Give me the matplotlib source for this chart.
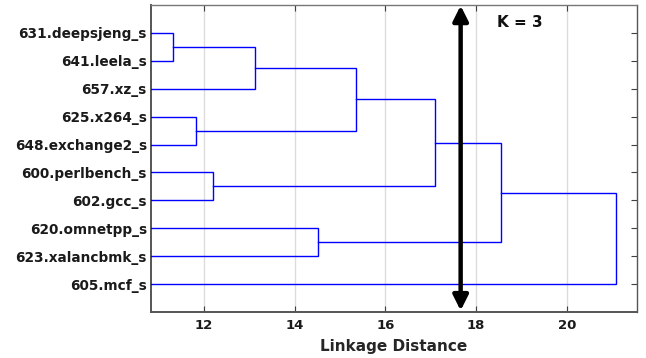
import matplotlib
matplotlib.use("Agg")
import matplotlib.pyplot as plt

# Benchmarks, top to bottom in dendrogram leaf order
leaves = ["631.deepsjeng_s", "641.leela_s", "657.xz_s", "625.x264_s",
          "648.exchange2_s", "600.perlbench_s", "602.gcc_s", "620.omnetpp_s",
          "623.xalancbmk_s", "605.mcf_s"]

# Merge steps: (left child, right child, linkage distance)
# children < 10 refer to leaves, >= 10 to earlier clusters (10 + step index)
merges = [
    (0, 1, 11.31),
    (10, 2, 13.13),
    (3, 4, 11.82),
    (11, 12, 15.36),
    (5, 6, 12.19),
    (13, 14, 17.10),
    (7, 8, 14.51),
    (15, 16, 18.55),
    (17, 9, 21.09),
]

cut_distance = 17.66
k_label = "K = 3"
xticks = [12, 14, 16, 18, 20]

fig = plt.figure(figsize=(6.46, 3.58), dpi=100)
ax = fig.add_axes([151 / 646, 1 - 312 / 358, (637 - 151) / 646, (312 - 5) / 358])

xmin, xmax = 10.83, 21.55

# leaf positions 1..n, y axis inverted so first leaf is on top
pos = {i: i + 1.0 for i in range(len(leaves))}
height = {i: xmin for i in range(len(leaves))}

for k, (a, b, d) in enumerate(merges):
    ya, yb = pos[a], pos[b]
    xa, xb = height[a], height[b]
    ax.plot([xa, d, d, xb], [ya, ya, yb, yb], color="#0000ff", lw=1.0,
            solid_joinstyle="miter", zorder=3)
    node = len(leaves) + k
    pos[node] = (ya + yb) / 2
    height[node] = d

ax.set_xlim(xmin, xmax)
ax.set_ylim(11, 0)
ax.set_yticks(range(1, len(leaves) + 1))
ax.set_yticklabels(leaves)
ax.set_xticks(xticks)
ax.grid(axis="x", color="#dcdcdc", lw=1.0, zorder=0)

ax.tick_params(axis="both", direction="in", length=4, width=0.8, color="#404040",
               top=True, right=True, labelcolor="#1a1a1a")
ax.tick_params(axis="y", left=False, pad=3, labelsize=9.8)
ax.tick_params(axis="x", pad=5, labelsize=9.5)
for lab in ax.get_xticklabels() + ax.get_yticklabels():
    lab.set_fontweight("bold")
for s in ax.spines.values():
    s.set_color("#555555")
    s.set_linewidth(1.0)
ax.spines["left"].set_linewidth(1.4)
ax.spines["bottom"].set_linewidth(1.4)
ax.spines["top"].set_color("#777777")

ax.set_xlabel("Linkage Distance", fontsize=11, fontweight="bold", color="#262626", labelpad=5)

# cut line with arrow heads at both ends
ax.annotate("", xy=(cut_distance, 0.02), xytext=(cut_distance, 10.95),
            arrowprops=dict(arrowstyle="<|-|>,head_length=0.9,head_width=0.45",
                            color="black", lw=3.2, shrinkA=0, shrinkB=0),
            zorder=5)
ax.text(18.97, 0.62, k_label, fontsize=11, fontweight="bold", ha="center",
        va="center", color="#111111")

fig.savefig("out.png", dpi=100)
